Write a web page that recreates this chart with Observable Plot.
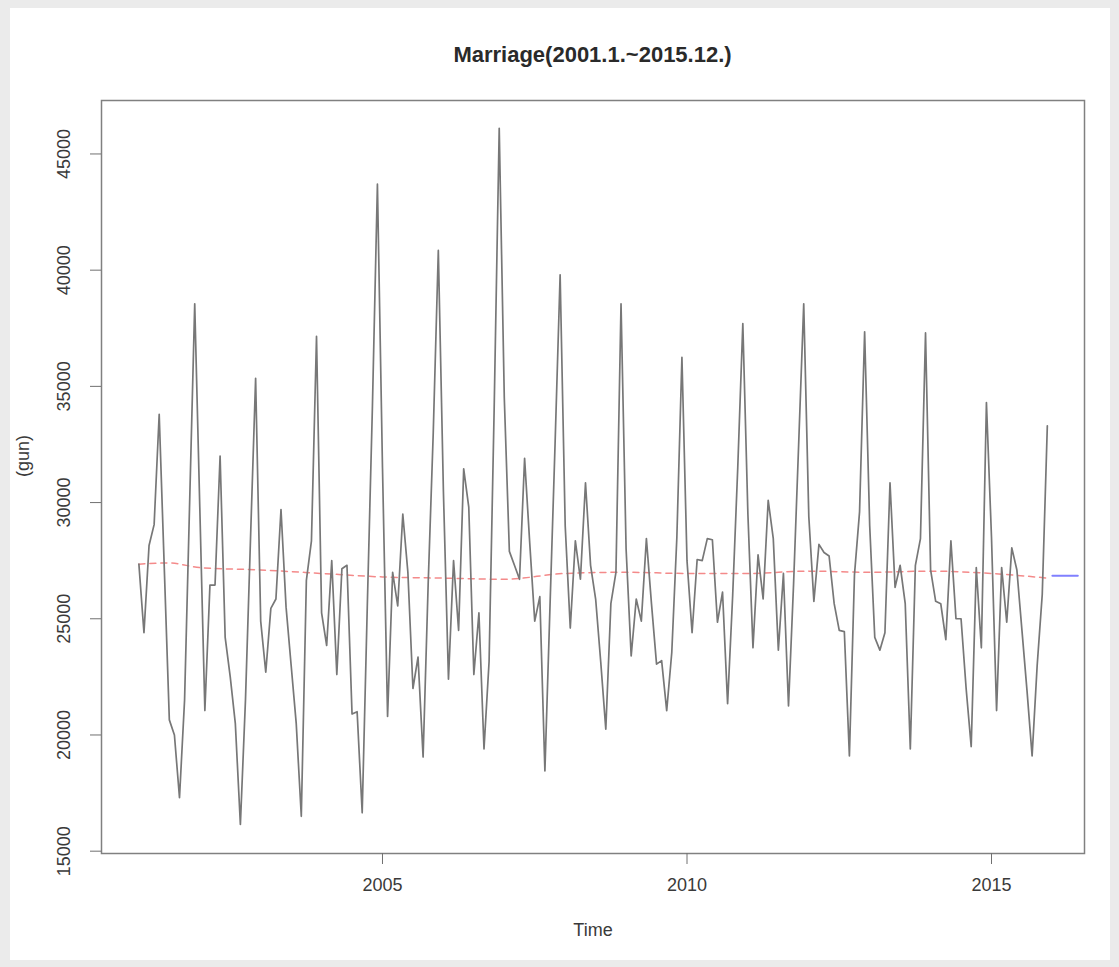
<!DOCTYPE html>
<html><head><meta charset="utf-8">
<script src="https://cdn.jsdelivr.net/npm/d3@7"></script>
<script src="https://cdn.jsdelivr.net/npm/@observablehq/plot@0.6"></script>
<style>
html,body{margin:0;padding:0;}
body{width:1119px;height:967px;background:#ebebeb;position:relative;overflow:hidden;font-family:"Liberation Sans",Arial,sans-serif;}
#panel{position:absolute;left:10px;top:8px;width:1100px;height:952px;background:#fff;}
#title{position:absolute;left:101px;width:983px;top:42px;text-align:center;font-size:22px;line-height:26px;font-weight:bold;color:#2a2a2a;}
#chart{position:absolute;left:0;top:80px;}
</style></head><body>
<div id="panel"></div>
<div id="title">Marriage(2001.1.~2015.12.)</div>
<div id="chart"></div>
<script>
const startYear = 2001;
const marriages = [
  27350, 24400, 28150, 29050, 33800, 27200, 20650, 20000, 17300, 21500, 30000, 38550, // 2001
  29800, 21050, 26450, 26450, 32000, 24200, 22500, 20500, 16150, 21500, 28500, 35350, // 2002
  24900, 22700, 25450, 25850, 29700, 25500, 23000, 20500, 16500, 26650, 28350, 37150, // 2003
  25250, 23850, 27500, 22600, 27150, 27300, 20900, 21000, 16650, 25500, 34000, 43700, // 2004
  31500, 20800, 27000, 25550, 29500, 27000, 22000, 23350, 19050, 26500, 33000, 40850, // 2005
  30500, 22400, 27500, 24500, 31450, 29800, 22600, 25250, 19400, 23150, 34000, 46100, // 2006
  34500, 27900, 27300, 26700, 31900, 28300, 24900, 25950, 18450, 25500, 32500, 39800, // 2007
  29000, 24600, 28350, 26700, 30850, 27300, 25850, 23150, 20250, 25650, 27000, 38550, // 2008
  28000, 23400, 25850, 24900, 28450, 25650, 23050, 23200, 21050, 23550, 28500, 36250, // 2009
  27500, 24400, 27550, 27500, 28450, 28400, 24850, 26150, 21350, 26000, 31500, 37700, // 2010
  29500, 23750, 27750, 25850, 30100, 28450, 23650, 26950, 21250, 26500, 32500, 38550, // 2011
  29400, 25750, 28200, 27850, 27700, 25650, 24500, 24450, 19100, 26900, 29600, 37350, // 2012
  29000, 24200, 23650, 24400, 30850, 26350, 27300, 25650, 19400, 27300, 28450, 37300, // 2013
  27100, 25750, 25650, 24100, 28350, 25000, 25000, 22000, 19500, 27200, 23750, 34300, // 2014
  28500, 21050, 27200, 24850, 28050, 27100, 24500, 21900, 19100, 23000, 26050, 33300  // 2015
];
const trendTimes  = [2001.0, 2001.5, 2002.0, 2003.0, 2004.0, 2005.0, 2006.0, 2007.0, 2008.0, 2009.0, 2010.0, 2011.0, 2012.0, 2013.0, 2014.0, 2015.0, 2015.917];
const trendValues = [27350, 27400, 27200, 27100, 26950, 26800, 26750, 26700, 26950, 27000, 26950, 26950, 27050, 27000, 27050, 26950, 26750];
const forecastTimes  = [2016.0, 2016.083, 2016.167, 2016.25, 2016.333, 2016.417];
const forecastValues = [26850, 26850, 26850, 26850, 26850, 26850];
const xTicks = [2005, 2010, 2015];
const yTicks = [15000, 20000, 25000, 30000, 35000, 40000, 45000];

const series = marriages.map((v, i) => ({t: startYear + i / 12, v}));
const trend = trendTimes.map((t, i) => ({t, v: trendValues[i]}));
const forecast = forecastTimes.map((t, i) => ({t, v: forecastValues[i]}));

const plot = Plot.plot({
  width: 1119, height: 887,
  marginLeft: 101, marginRight: 35, marginTop: 20, marginBottom: 114,
  style: {background: "none", fontFamily: "'Liberation Sans', Arial, sans-serif", fontSize: "18px", color: "#3a3a3a", overflow: "visible"},
  x: {domain: [2000.386, 2016.527], label: null},
  y: {domain: [14900, 47300], label: null},
  marks: [
    Plot.frame({stroke: "#808080", strokeWidth: 1.5}),
    Plot.axisX({ticks: xTicks, tickSize: 11, tickPadding: 14, tickFormat: d => String(d), label: null, fontSize: 18, stroke: "#707070", fill: "#3a3a3a"}),
    Plot.axisY({ticks: yTicks, tickSize: 11, tickPadding: 21, tickRotate: -90, tickFormat: d => String(d), label: null, fontSize: 18, stroke: "#707070", fill: "#3a3a3a"}),
    Plot.text(["Time"], {text: d => d, frameAnchor: "bottom", dy: 82, fontSize: 18, fill: "#3a3a3a"}),
    Plot.text(["(gun)"], {text: d => d, frameAnchor: "left", dx: -78, rotate: -90, fontSize: 18, fill: "#3a3a3a"}),
    Plot.line(trend, {x: "t", y: "v", stroke: "#f48a8a", strokeWidth: 1.5, strokeDasharray: "6,5", curve: "monotone-x"}),
    Plot.line(series, {x: "t", y: "v", stroke: "#777", strokeWidth: 1.7}),
    Plot.line(forecast, {x: "t", y: "v", stroke: "#8080ff", strokeWidth: 2})
  ]
});
document.getElementById("chart").appendChild(plot);
</script>
</body></html>
